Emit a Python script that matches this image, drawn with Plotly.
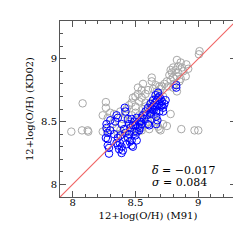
import plotly.graph_objects as go

gray_x = [7.99, 8.08, 8.075, 8.12, 8.125, 8.265, 8.265, 8.24, 8.24, 8.28, 8.30, 8.33, 8.32, 8.35, 8.27,
          8.38, 8.40, 8.42, 8.43, 8.45, 8.47, 8.48, 8.50, 8.52, 8.50, 8.53, 8.55, 8.52, 8.55, 8.56, 8.58,
          8.60, 8.63, 8.63, 8.64, 8.66, 8.67, 8.69, 8.70, 8.71, 8.68, 8.72, 8.58, 8.60, 8.62, 8.57, 8.55,
          8.53, 8.50, 8.47, 8.45, 8.48, 8.50, 8.52, 8.55, 8.58, 8.60, 8.63, 8.65, 8.67, 8.42, 8.40, 8.44,
          8.46, 8.38, 8.36,
          8.78, 8.75, 8.69, 8.70, 8.865, 8.97, 9.00, 8.61, 8.55, 8.72, 8.68,
          9.01, 9.005, 8.83, 8.86, 8.905, 8.92, 8.80, 8.82, 8.79, 8.84, 8.88, 8.90, 8.83, 8.86, 8.80, 8.77,
          8.78, 8.75, 8.85, 8.81, 8.76, 8.73, 8.83, 8.80, 8.87, 8.84, 8.78,
          8.62, 8.65, 8.58, 8.56]
gray_y = [8.42, 8.645, 8.43, 8.43, 8.42, 8.655, 8.61, 8.55, 8.42, 8.53, 8.57, 8.56, 8.48, 8.45, 8.44,
          8.58, 8.52, 8.56, 8.60, 8.63, 8.65, 8.69, 8.70, 8.72, 8.62, 8.66, 8.69, 8.77, 8.75, 8.80, 8.72,
          8.75, 8.85, 8.82, 8.76, 8.79, 8.74, 8.78, 8.76, 8.78, 8.72, 8.70, 8.62, 8.60, 8.58, 8.56, 8.52,
          8.55, 8.57, 8.55, 8.50, 8.47, 8.44, 8.42, 8.45, 8.48, 8.50, 8.52, 8.55, 8.50, 8.44, 8.40, 8.38,
          8.42, 8.43, 8.40,
          8.56, 8.465, 8.44, 8.43, 8.44, 8.43, 8.43, 8.44, 8.43, 8.48, 8.46,
          9.06, 9.035, 8.99, 8.97, 8.955, 8.92, 8.93, 8.91, 8.89, 8.89, 8.90, 8.86, 8.86, 8.84, 8.85, 8.87,
          8.83, 8.82, 8.82, 8.80, 8.78, 8.80, 8.74, 8.77, 8.93, 8.94, 8.91,
          8.65, 8.68, 8.65, 8.60]

blue_x = [8.29, 8.29, 8.28, 8.27, 8.27, 8.28, 8.265, 8.28, 8.30, 8.34, 8.35, 8.36, 8.415, 8.42, 8.39,
          8.41, 8.42, 8.36, 8.375, 8.39, 8.36, 8.40, 8.39, 8.44, 8.455, 8.47, 8.48, 8.43, 8.48, 8.49,
          8.51, 8.53, 8.52, 8.535, 8.51, 8.50, 8.51, 8.47, 8.55, 8.54, 8.55, 8.60, 8.62, 8.635, 8.645,
          8.66, 8.67, 8.68, 8.69, 8.70, 8.69, 8.71, 8.72, 8.72, 8.69, 8.665, 8.645, 8.625, 8.665, 8.675,
          8.61, 8.665, 8.74, 8.73, 8.825, 8.825, 8.66, 8.68, 8.64, 8.62, 8.60, 8.58, 8.56, 8.57, 8.46,
          8.45, 8.44, 8.47, 8.50, 8.30, 8.33, 8.38, 8.35, 8.37, 8.45, 8.49, 8.53, 8.59, 8.63, 8.70,
          8.71, 8.67]
blue_y = [8.29, 8.245, 8.31, 8.48, 8.45, 8.41, 8.37, 8.36, 8.51, 8.50, 8.55, 8.53, 8.61, 8.58, 8.48,
          8.44, 8.41, 8.37, 8.33, 8.30, 8.31, 8.27, 8.25, 8.37, 8.34, 8.31, 8.30, 8.32, 8.47, 8.50,
          8.53, 8.50, 8.46, 8.45, 8.42, 8.39, 8.35, 8.35, 8.53, 8.50, 8.48, 8.48, 8.57, 8.60, 8.63,
          8.65, 8.67, 8.69, 8.70, 8.68, 8.64, 8.63, 8.61, 8.58, 8.58, 8.58, 8.59, 8.56, 8.54, 8.51,
          8.47, 8.48, 8.67, 8.64, 8.79, 8.77, 8.71, 8.73, 8.67, 8.64, 8.61, 8.58, 8.55, 8.52, 8.45,
          8.48, 8.52, 8.52, 8.47, 8.43, 8.40, 8.39, 8.33, 8.28, 8.40, 8.42, 8.43, 8.55, 8.61, 8.62,
          8.66, 8.62]

line_x = [7.9, 9.3]
stats_text = ["<i>δ̅</i> = −0.017", "<i>σ</i> = 0.084"]

FONT = "DejaVu Serif"

fig = go.Figure()
fig.add_trace(go.Scatter(x=gray_x, y=gray_y, mode="markers",
                         marker=dict(symbol="circle-open", size=7.5, color="#a8a8a8", line=dict(width=1))))
fig.add_trace(go.Scatter(x=blue_x, y=blue_y, mode="markers",
                         marker=dict(symbol="circle-open", size=7.5, color="#0000ff", line=dict(width=1))))
fig.add_trace(go.Scatter(x=line_x, y=line_x, mode="lines", line=dict(color="#f06464", width=1.2)))

fig.add_annotation(x=8.66, y=8.11, text=stats_text[0], showarrow=False, xanchor="left",
                   xshift=-6, font=dict(family=FONT, size=11, color="black"))
fig.add_annotation(x=8.66, y=8.015, text=stats_text[1], showarrow=False, xanchor="left",
                   xshift=-6, font=dict(family=FONT, size=11, color="black"))

axis_common = dict(range=[7.9, 9.3], tick0=8, dtick=0.5, ticks="inside", ticklen=6, tickwidth=1,
                   tickcolor="#555555", showline=True, linecolor="#555555", linewidth=1, mirror="ticks",
                   showgrid=False, zeroline=False,
                   minor=dict(dtick=0.1, ticks="inside", ticklen=3, tickcolor="#555555", showgrid=False),
                   tickfont=dict(family=FONT, size=10, color="black"))
fig.update_xaxes(**axis_common, ticklabelstandoff=-4, title=dict(text="12+log(O/H) (M91)", standoff=4,
                 font=dict(family=FONT, size=10, color="black")))
fig.update_yaxes(**axis_common, title=dict(text="12+log(O/H) (KD02)", standoff=5,
                 font=dict(family=FONT, size=10, color="black")))
fig.update_layout(width=241, height=241, margin=dict(l=52, r=13, t=13, b=52),
                  showlegend=False, plot_bgcolor="white", paper_bgcolor="white")
fig.write_html("out.html")
